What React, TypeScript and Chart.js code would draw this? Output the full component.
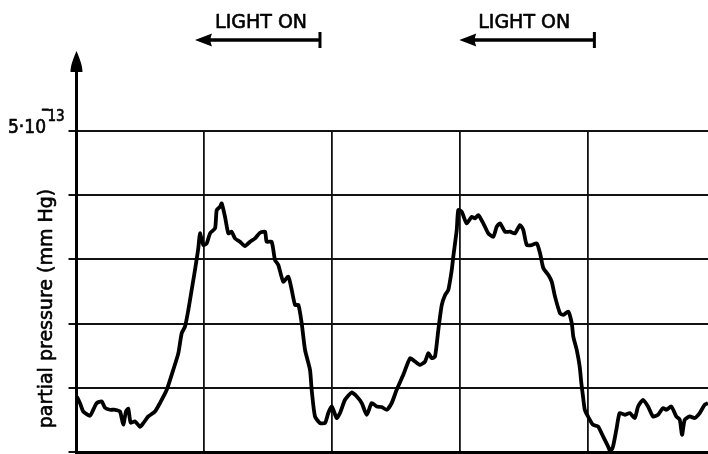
import React, { useEffect, useRef } from "react";
import { Chart, registerables } from "chart.js";

Chart.register(...registerables);

// time (one grid division = 10 units)
const timeValues = [
  0.02, 0.27, 0.53, 1.06, 1.31, 1.58, 1.97, 2.23, 2.62, 3.01, 3.4, 3.66, 3.87, 4.05, 4.24, 4.58, 4.97, 5.23, 5.62, 6.14,
  6.53, 7.06, 7.57, 7.97, 8.23, 8.49, 8.75, 9.01, 9.27, 9.53, 9.66, 9.92, 10.19, 10.45, 10.84, 10.97, 11.23, 11.36, 11.62,
  11.88, 12.14, 12.4, 12.79, 13.18, 13.58, 13.97, 14.36, 14.75, 14.88, 15.27, 15.53, 15.79, 16.18, 16.57, 16.84, 17.1,
  17.36, 17.62, 17.88, 18.27, 18.4, 18.66, 19.05, 19.44, 19.7, 19.97, 20.36, 20.62, 21.01, 21.53, 21.93, 22.32, 22.71,
  23.1, 23.49, 23.88, 24.27, 24.66, 25.05, 25.57, 26.1, 26.49, 26.88, 27.27, 27.53, 27.79, 28.05, 28.31, 28.58, 28.84,
  29.09, 29.36, 29.48, 29.75, 29.87, 30.14, 30.53, 30.92, 31.18, 31.44, 31.83, 32.22, 32.61, 32.88, 33.14, 33.53, 33.92,
  34.31, 34.7, 34.96, 35.23, 35.62, 36.01, 36.27, 36.53, 36.92, 37.18, 37.44, 37.83, 38.09, 38.48, 38.75, 38.87, 39.14,
  39.37, 39.5, 39.63, 39.77, 40.02, 40.41, 40.81, 41.2, 41.59, 41.77, 41.98, 42.24, 42.5, 42.9, 43.29, 43.68, 43.94,
  44.33, 44.72, 45.11, 45.5, 45.89, 46.15, 46.54, 46.93, 47.2, 47.38, 47.59, 47.98, 48.37, 48.76, 49.15, 49.41,
];

// partial pressure in units of 10^-13 mm Hg
const pressureValues = [
  0.865, 0.762, 0.631, 0.565, 0.658, 0.762, 0.787, 0.689, 0.658, 0.658, 0.631, 0.425, 0.631, 0.673, 0.456, 0.476, 0.393,
  0.451, 0.554, 0.631, 0.762, 0.969, 1.28, 1.54, 1.851, 1.953, 2.213, 2.524, 2.835, 3.173, 3.406, 3.224, 3.25, 3.406,
  3.484, 3.768, 3.82, 3.872, 3.664, 3.406, 3.431, 3.328, 3.275, 3.208, 3.275, 3.328, 3.415, 3.431, 3.275, 3.275, 2.991,
  2.913, 2.653, 2.731, 2.524, 2.291, 2.291, 2.006, 1.591, 1.28, 0.969, 0.554, 0.451, 0.451, 0.607, 0.709, 0.529, 0.607,
  0.813, 0.927, 0.865, 0.762, 0.58, 0.762, 0.709, 0.7, 0.658, 0.762, 0.969, 1.202, 1.462, 1.409, 1.358, 1.409, 1.54,
  1.462, 1.487, 1.902, 2.291, 2.446, 2.524, 2.835, 3.042, 3.457, 3.768, 3.742, 3.561, 3.664, 3.639, 3.69, 3.561, 3.406,
  3.353, 3.509, 3.561, 3.431, 3.431, 3.406, 3.535, 3.457, 3.224, 3.224, 3.25, 3.095, 2.862, 2.757, 2.653, 2.42, 2.162,
  2.135, 2.187, 2.006, 1.798, 1.591, 1.331, 1.073, 0.865, 0.658, 0.554, 0.425, 0.398, 0.243, 0.087, 0.009, 0.087, 0.347,
  0.607, 0.58, 0.607, 0.529, 0.709, 0.813, 0.709, 0.554, 0.58, 0.684, 0.658, 0.709, 0.554, 0.502, 0.269, 0.502, 0.554,
  0.529, 0.607, 0.736, 0.762,
];

const X_MIN = 0;
const X_MAX = 49.41;
const X_STEP = 10;
const Y_MIN = 0;
const Y_MAX = 5;
const Y_STEP = 1;

const lightOnArrowTip = [9.27, 29.95];
const lightOnArrowEnd = [19.05, 40.52];
const lightOnLabelCenter = [14.44, 35.03];
const lightOnLabel = "LIGHT ON";
const yAxisTitle = "partial pressure (mm Hg)";
const topTickMantissa = "5·10";
const topTickExponent = "13";

function heavyText(ctx: CanvasRenderingContext2D, text: string, x: number, y: number, w = 0.6) {
  ctx.fillText(text, x, y);
  ctx.lineWidth = w;
  ctx.lineJoin = "round";
  ctx.strokeText(text, x, y);
}

const decorations = {
  id: "decorations",
  afterDraw(chart: any) {
    const { ctx, chartArea, scales } = chart;
    const xs = scales.x;
    const ys = scales.y;
    const { left, top, bottom } = chartArea;
    ctx.save();
    ctx.fillStyle = "#000";
    ctx.strokeStyle = "#000";

    // y axis extension with arrow head
    const tipY = top - 80;
    ctx.lineWidth = 3;
    ctx.beginPath();
    ctx.moveTo(left, top);
    ctx.lineTo(left, tipY + 18);
    ctx.stroke();
    ctx.beginPath();
    ctx.moveTo(left, tipY);
    ctx.bezierCurveTo(left + 2.5, tipY + 6, left + 6, tipY + 14, left + 6, tipY + 21);
    ctx.lineTo(left - 6, tipY + 21);
    ctx.bezierCurveTo(left - 6, tipY + 14, left - 2.5, tipY + 6, left, tipY);
    ctx.closePath();
    ctx.fill();

    // top tick label 5·10^-13
    const y5 = ys.getPixelForValue(Y_MAX);
    ctx.textAlign = "left";
    ctx.textBaseline = "alphabetic";
    ctx.font = "19px 'DejaVu Sans Condensed', 'DejaVu Sans'";
    heavyText(ctx, topTickMantissa, 8, y5 + 1.8);
    ctx.font = "17px 'DejaVu Sans Condensed', 'DejaVu Sans'";
    heavyText(ctx, "\u2013", 41.5, y5 - 17.5, 1);
    ctx.font = "15px 'DejaVu Sans Condensed', 'DejaVu Sans'";
    heavyText(ctx, topTickExponent, 47.5, y5 - 10);

    // y axis title
    ctx.save();
    ctx.translate(left - 29, (top + bottom) / 2 + 17);
    ctx.rotate(-Math.PI / 2);
    ctx.font = "19px 'DejaVu Sans'";
    ctx.textAlign = "center";
    ctx.textBaseline = "middle";
    heavyText(ctx, yAxisTitle, 0, 0);
    ctx.restore();

    // LIGHT ON arrows
    const ay = top - 91;
    for (let i = 0; i < lightOnArrowTip.length; i++) {
      const tx = xs.getPixelForValue(lightOnArrowTip[i]);
      const ex = xs.getPixelForValue(lightOnArrowEnd[i]);
      const cx = xs.getPixelForValue(lightOnLabelCenter[i]);
      ctx.lineWidth = 3.5;
      ctx.beginPath();
      ctx.moveTo(tx + 12, ay);
      ctx.lineTo(ex, ay);
      ctx.stroke();
      ctx.beginPath();
      ctx.moveTo(tx, ay);
      ctx.lineTo(tx + 17, ay - 6.5);
      ctx.quadraticCurveTo(tx + 14, ay, tx + 17, ay + 6.5);
      ctx.closePath();
      ctx.fill();
      ctx.lineWidth = 3;
      ctx.beginPath();
      ctx.moveTo(ex, ay - 8);
      ctx.lineTo(ex, ay + 8);
      ctx.stroke();
      ctx.font = "19px 'DejaVu Sans'";
      ctx.textAlign = "center";
      ctx.textBaseline = "alphabetic";
      heavyText(ctx, lightOnLabel, cx, top - 103);
    }
    ctx.restore();
  },
};

export default function App() {
  const canvasRef = useRef<HTMLCanvasElement | null>(null);

  useEffect(() => {
    const canvas = canvasRef.current;
    if (!canvas) return;
    const points = timeValues.map((t, i) => ({ x: t, y: pressureValues[i] }));
    const chart = new Chart(canvas, {
      type: "line",
      data: {
        datasets: [
          {
            data: points,
            borderColor: "#000",
            borderWidth: 3.8,
            pointRadius: 0,
            tension: 0.2,
            fill: false,
          },
        ],
      },
      options: {
        responsive: false,
        animation: false,
        events: [],
        layout: { padding: { top: 131, left: 0, right: 0, bottom: 0 } },
        plugins: { legend: { display: false }, tooltip: { enabled: false }, title: { display: false } },
        scales: {
          x: {
            type: "linear",
            min: X_MIN,
            max: X_MAX,
            ticks: { display: false, stepSize: X_STEP, includeBounds: false },
            grid: { color: "#111", lineWidth: 1.8, drawTicks: false },
            border: { display: true, color: "#000", width: 3 },
            afterFit: (s: any) => {
              s.height = 2;
            },
          },
          y: {
            type: "linear",
            min: Y_MIN,
            max: Y_MAX,
            ticks: { display: false, stepSize: Y_STEP },
            grid: { color: "#111", lineWidth: 2, drawTicks: true, tickLength: 8 },
            border: { display: true, color: "#000", width: 3 },
            afterFit: (s: any) => {
              s.width = 76.5;
            },
          },
        },
      } as any,
      plugins: [decorations],
    });
    return () => chart.destroy();
  }, []);

  return (
    <div style={{ position: "fixed", left: 0, top: 0, width: 708, height: 454, background: "#fff" }}>
      <canvas ref={canvasRef} width={708} height={454} style={{ display: "block" }} />
    </div>
  );
}
